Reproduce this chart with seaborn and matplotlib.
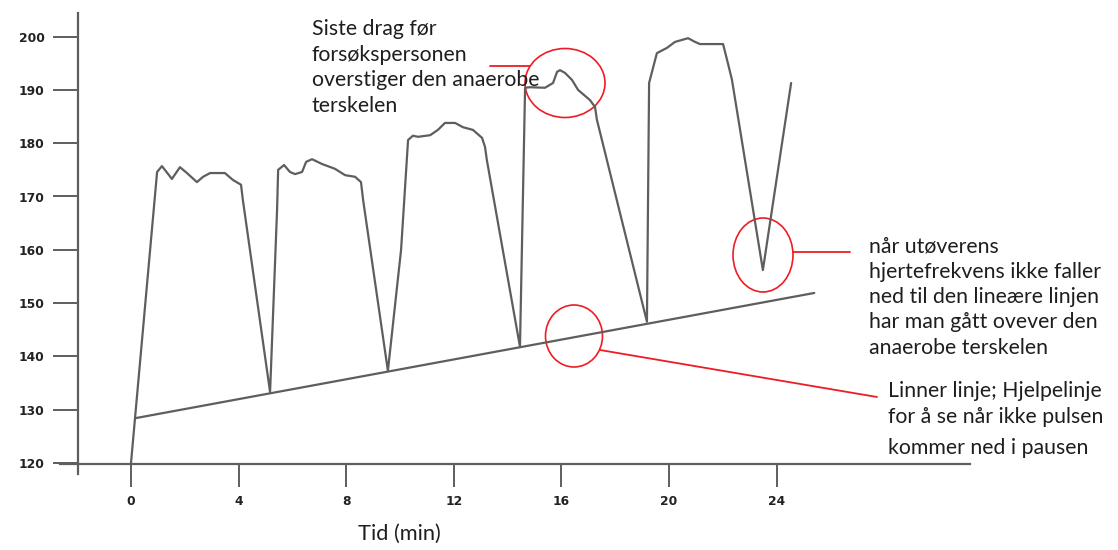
import matplotlib
matplotlib.use("Agg")
import matplotlib.pyplot as plt
from matplotlib.patches import Ellipse
import seaborn as sns
import numpy as np

# ---- data ----
tid = [0, 0.97, 1.15, 1.52, 1.82, 2.08, 2.45, 2.68, 2.94, 3.49, 3.79, 4.09, 4.16,
       5.17, 5.43, 5.47, 5.69, 5.91, 6.10, 6.36, 6.51, 6.73, 7.10, 7.58, 7.96, 8.33, 8.55, 8.63,
       9.55, 10.04, 10.30, 10.48, 10.67, 11.12, 11.41, 11.67, 12.05, 12.34, 12.71, 13.05, 13.16, 13.23,
       14.46, 14.65, 14.83, 15.39, 15.69, 15.84, 15.95, 16.13, 16.39, 16.62, 17.06, 17.25, 17.32,
       19.18, 19.26, 19.55, 19.93, 20.22, 20.71, 20.97, 21.15, 22.01, 22.19, 22.34,
       23.49, 24.54]
puls = [120.0, 174.6, 175.7, 173.3, 175.5, 174.4, 172.7, 173.7, 174.4, 174.4, 173.1, 172.2, 169.3,
        133.3, 167.5, 175.0, 175.9, 174.6, 174.2, 174.6, 176.5, 177.0, 176.1, 175.2, 174.0, 173.7, 172.7, 169.3,
        137.3, 160.0, 180.6, 181.4, 181.2, 181.5, 182.5, 183.8, 183.8, 183.0, 182.5, 181.0, 179.3, 176.8,
        141.8, 190.4, 190.5, 190.4, 191.3, 193.4, 193.7, 193.2, 191.9, 190.0, 188.1, 186.8, 184.4,
        146.5, 191.3, 196.9, 197.9, 199.0, 199.7, 199.0, 198.6, 198.6, 195.0, 191.9,
        156.2, 191.3]

hjelp_tid = [0.15, 25.4]
hjelp_puls = [128.4, 151.9]

x_ticks = [0, 4, 8, 12, 16, 20, 24]
y_ticks = [120, 130, 140, 150, 160, 170, 180, 190, 200]
x_label = "Tid (min)"

tekst1 = ["Siste drag før", "forsøkspersonen", "overstiger den anaerobe", "terskelen"]
tekst2 = ["når utøverens", "hjertefrekvens ikke faller", "ned til den lineære linjen",
          "har man gått ovever den", "anaerobe terskelen"]
tekst3 = ["Linner linje; Hjelpelinje", "for å se når ikke pulsen", "kommer ned i pausen"]

# ---- figure ----
sns.set_style("ticks")
plt.rcParams['font.family'] = ['Lato', 'DejaVu Sans']

W, H = 1118, 550
fig = plt.figure(figsize=(W / 100, H / 100), dpi=100)
L, R, T, B = 60, 970, 13, 474
ax = fig.add_axes([L / W, 1 - B / H, (R - L) / W, (B - T) / H])

# pixel <-> data mapping
def t_of(px):
    return (px - 131) / 26.9

def v_of(py):
    return 120 + (463 - py) / 5.33

ax.set_xlim(t_of(L), t_of(R))
ax.set_ylim(v_of(B), v_of(T))

line_col = "#5e5e5e"
sns.lineplot(x=tid, y=puls, ax=ax, color=line_col, lw=1.6, sort=False, estimator=None)
sns.lineplot(x=hjelp_tid, y=hjelp_puls, ax=ax, color=line_col, lw=1.6, sort=False, estimator=None)

for s in ["top", "right"]:
    ax.spines[s].set_visible(False)
ax.spines["left"].set_position(("data", t_of(78)))
ax.spines["bottom"].set_position(("data", v_of(464)))
for s in ["left", "bottom"]:
    ax.spines[s].set_color(line_col)
    ax.spines[s].set_linewidth(1.6)

ax.set_xticks(x_ticks)
ax.set_yticks(y_ticks)
ax.set_xticklabels([str(v) for v in x_ticks])
ax.set_yticklabels([str(v) for v in y_ticks])
ax.tick_params(axis="y", left=True, direction="out", length=18, width=1.4, color=line_col, pad=6)
ax.tick_params(axis="x", bottom=True, direction="out", length=16.5, width=1.4, color=line_col, pad=6)
for lab in ax.get_xticklabels() + ax.get_yticklabels():
    lab.set_fontfamily("DejaVu Sans")
    lab.set_fontweight("bold")
    lab.set_fontsize(8.8)
    lab.set_color("#222222")
ax.set_xlabel("")
ax.set_ylabel("")

def fx(px):
    return px / W

def fy(py):
    return 1 - py / H

txt_col = "#1e1e1e"
fs = 15.3
for i, s in enumerate(tekst1):
    fig.text(fx(312), fy(35 + 25.7 * i), s, fontsize=fs, color=txt_col, va="baseline", ha="left")
for i, s in enumerate(tekst2):
    fig.text(fx(869), fy(252 + 25.5 * i), s, fontsize=fs, color=txt_col, va="baseline", ha="left")
for i, s in enumerate([397, 423, 454]):
    fig.text(fx(888), fy(s), tekst3[i], fontsize=fs, color=txt_col, va="baseline", ha="left")
fig.text(fx(358), fy(540), x_label, fontsize=15.7, color=txt_col, va="baseline", ha="left")

# red annotations
red = "#ee1c24"
def ell(cx, cy, w, h):
    e = Ellipse((t_of(cx), v_of(cy)), w / 26.9, h / 5.33, fill=False, ec=red, lw=1.2, clip_on=False)
    ax.add_patch(e)

ell(565, 83, 80, 69)
ell(763, 255, 60, 74)
ell(574, 336, 57, 62)

def rline(x0, y0, x1, y1):
    ax.plot([t_of(x0), t_of(x1)], [v_of(y0), v_of(y1)], color=red, lw=1.3, clip_on=False)

rline(490, 66, 530, 66)
rline(793, 252, 850, 252)
rline(600, 350, 877, 397)

fig.savefig("out.png", dpi=100)
